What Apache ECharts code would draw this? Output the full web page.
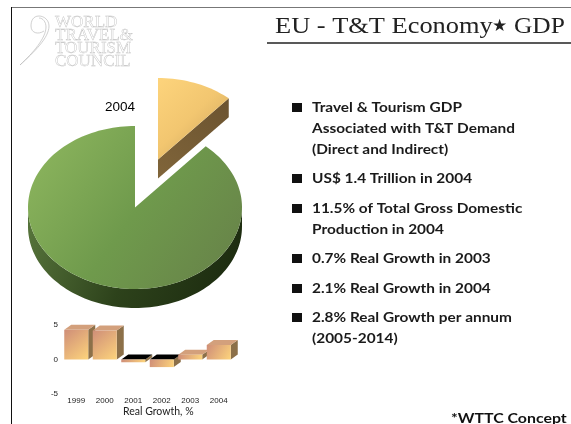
<!DOCTYPE html>
<html>
<head>
<meta charset="utf-8">
<style>
  html, body { margin: 0; padding: 0; background: #fff; }
  #chart { width: 571px; height: 424px; }
</style>
<script src="https://cdn.jsdelivr.net/npm/echarts@6/dist/echarts.min.js"></script>
</head>
<body>
<div id="chart"></div>
<script>
const pieNames = ["Rest of GDP", "T&T Economy"];
const pieValues = [88.5, 11.5];
const pieYear = "2004";

const years = ["1999", "2000", "2001", "2002", "2003", "2004"];
const growth = [4.3, 4.2, -0.4, -1.1, 0.7, 2.1];
const growthTicks = [-5, 0, 5];
const growthTitle = "Real Growth, %";

const titleText = "EU - T&T Economy";
const logoLines = ["WORLD", "TRAVEL&", "TOURISM", "COUNCIL"];
const bulletLines = [
  ["Travel & Tourism GDP", "Associated with T&T Demand", "(Direct and Indirect)"],
  ["US$ 1.4 Trillion in 2004"],
  ["11.5% of Total Gross Domestic", "Production in 2004"],
  ["0.7% Real Growth in 2003"],
  ["2.1% Real Growth in 2004"],
  ["2.8% Real Growth per annum", "(2005-2014)"],
];
const bulletBaselines = [112, 183, 213, 263, 293, 322];
const footnote = "*WTTC Concept";

const linear = (x, y, x2, y2, a, b, c) => ({
  type: "linear", x, y, x2, y2,
  colorStops: c
    ? [{ offset: 0, color: a }, { offset: 0.5, color: b }, { offset: 1, color: c }]
    : [{ offset: 0, color: a }, { offset: 1, color: b }],
});

// slices on an ellipse, since the pie series can only do circles
const PIE = { cx: 135, cy: 207.5, rx: 107, ry: 81.5, depth: 19 };
const EXPLODE = { dx: 23, dy: -48 };

function arcPoints(cx, cy, from, to) {
  const pts = [];
  const n = Math.max(2, Math.ceil((to - from) / 2));
  for (let i = 0; i <= n; i++) {
    const a = ((from + ((to - from) * i) / n) * Math.PI) / 180;
    pts.push([cx + PIE.rx * Math.sin(a), cy - PIE.ry * Math.cos(a)]);
  }
  return pts;
}

function renderSlice(params, api) {
  const total = pieValues.reduce((s, v) => s + v, 0);
  const share = (api.value(0) / total) * 360;
  const isSmall = params.dataIndex === 1;
  const from = isSmall ? 0 : (pieValues[1] / total) * 360;
  const to = from + share;
  const cx = PIE.cx + (isSmall ? EXPLODE.dx : 0);
  const cy = PIE.cy + (isSmall ? EXPLODE.dy : 0);
  const d = PIE.depth;
  const children = [];

  if (isSmall) {
    const end = arcPoints(cx, cy, to, to)[0];
    children.push({
      type: "polygon",
      shape: { points: [[cx, cy], end, [end[0], end[1] + d], [cx, cy + d]] },
      style: { fill: linear(0, 1, 1, 0, "#80653a", "#6b5330") },
    });
  } else {
    // only the front half of the rim shows
    const rim = arcPoints(cx, cy, 90, 270);
    const lower = rim.map((p) => [p[0], p[1] + d]).reverse();
    children.push({
      type: "polygon",
      shape: { points: rim.concat(lower) },
      style: { fill: linear(0, 0.3, 0.9, 1, "#55723a", "#2d421b", "#1d2c10") },
    });
  }

  const top = arcPoints(cx, cy, from, to);
  top.push([cx, cy]);
  children.push({
    type: "polygon",
    shape: { points: top },
    style: {
      fill: isSmall
        ? linear(0, 0, 1, 0.9, "#fdd47c", "#f2c670", "#c9a25c")
        : linear(0.1, 0.15, 0.9, 0.9, "#88b15b", "#6f9a4c", "#688549"),
    },
  });
  return { type: "group", children };
}

function renderBar(params, api) {
  const x = api.coord([api.value(0), 0])[0];
  const y0 = api.coord([api.value(0), 0])[1];
  const y1 = api.coord([api.value(0), api.value(1)])[1];
  const w = 24;
  const dx = 7;
  const dy = 5;
  const left = x - w / 2;
  const right = x + w / 2;
  const top = Math.min(y0, y1);
  const bottom = Math.max(y0, y1);
  const negative = api.value(1) < 0;
  return {
    type: "group",
    children: [
      {
        type: "polygon",
        shape: { points: [[right, top], [right + dx, top - dy], [right + dx, bottom - dy], [right, bottom]] },
        style: { fill: "#8c7049" },
      },
      {
        type: "polygon",
        shape: { points: [[left, top], [left + dx, top - dy], [right + dx, top - dy], [right, top]] },
        style: { fill: negative ? "#000" : "#d3a07c" },
      },
      {
        type: "rect",
        shape: { x: left, y: top, width: w, height: bottom - top },
        style: { fill: linear(0, 0, 1, 1, "#cf8e78", "#fdd47c") },
      },
    ],
  };
}

// scaleX stands in for letter spacing, which the text element ignores
const textEl = (text, x, y, font, fill, scaleX, extra) => ({
  type: "text",
  x,
  y,
  scaleX: scaleX || 1,
  silent: true,
  style: Object.assign({ text, font, fill }, extra || {}),
});

const logoStroke = { fill: "none", stroke: "#bbb", lineWidth: 0.7 };
const logoCurve = (x1, y1, cpx1, cpy1, cpx2, cpy2, x2, y2) => ({
  type: "bezierCurve",
  shape: { x1, y1, cpx1, cpy1, cpx2, cpy2, x2, y2 },
  style: logoStroke,
});

const bodyFont = 'bold 14px "Lato"';
const graphics = [
  { type: "line", shape: { x1: 11, y1: 7.5, x2: 571, y2: 7.5 }, style: { stroke: "#777", lineWidth: 1 } },
  { type: "line", shape: { x1: 11.5, y1: 7, x2: 11.5, y2: 424 }, style: { stroke: "#111", lineWidth: 1 } },
  { type: "line", shape: { x1: 267, y1: 43, x2: 571, y2: 43 }, style: { stroke: "#222", lineWidth: 1.5 } },
  logoCurve(20, 65, 34, 52, 49, 38, 49, 26),
  logoCurve(49, 26, 49, 20, 44, 16, 39, 16),
  logoCurve(39, 16, 33, 16, 31, 21, 31, 26),
  logoCurve(31, 26, 31, 33, 38, 35, 44, 31),
  logoCurve(20, 65, 33, 53, 46, 38, 46, 27),
  logoCurve(46, 27, 46, 22, 43, 18, 39, 18),
  textEl(pieYear, 105, 100, '13.5px "Liberation Sans"', "#000"),
  textEl(titleText, 275, 15, '24px "Liberation Serif"', "#222", 1.1),
  textEl("★", 492, 18, '17px "DejaVu Sans"', "#222"),
  textEl("GDP", 514, 15, '24px "Liberation Serif"', "#222", 1.06),
  textEl(growthTitle, 123, 406, '10.5px "Lato"', "#222"),
  textEl(footnote, 451, 411, bodyFont, "#111", 1.135),
];

logoLines.forEach((line, i) => {
  graphics.push(
    textEl(line, 55, 14 + i * 13, '16.5px "Liberation Serif"', "rgba(255,255,255,0)", 1.03, {
      stroke: "#bdbdbd",
      lineWidth: 0.4,
    })
  );
});

bulletLines.forEach((lines, i) => {
  const base = bulletBaselines[i];
  graphics.push({
    type: "rect",
    shape: { x: 292, y: base - 9, width: 10, height: 9 },
    style: { fill: "#111" },
  });
  lines.forEach((line, j) => {
    graphics.push(textEl(line, 312, base - 12 + j * 21, bodyFont, "#1a1a1a", 1.1));
  });
});

const chart = echarts.init(document.getElementById("chart"), null, { renderer: "canvas" });
chart.setOption({
  animation: false,
  backgroundColor: "#fff",
  grid: { left: 62, top: 325, width: 171, height: 69, containLabel: false },
  xAxis: {
    type: "category",
    data: years,
    axisLine: { show: false },
    axisTick: { show: false },
    axisLabel: { color: "#222", fontSize: 8, fontFamily: "Liberation Sans", margin: 3 },
  },
  yAxis: {
    type: "value",
    min: growthTicks[0],
    max: growthTicks[2],
    interval: 5,
    splitLine: { show: false },
    axisLine: { show: false },
    axisTick: { show: false },
    axisLabel: { color: "#222", fontSize: 8, fontFamily: "Liberation Sans", margin: 4 },
  },
  series: [
    {
      type: "custom",
      coordinateSystem: "none",
      name: "share",
      renderItem: renderSlice,
      data: pieNames.map((name, i) => ({ name, value: [pieValues[i]] })),
    },
    {
      type: "custom",
      name: "growth",
      renderItem: renderBar,
      encode: { x: 0, y: 1 },
      data: growth.map((v, i) => [i, v]),
    },
  ],
  graphic: { elements: graphics },
});
</script>
</body>
</html>
